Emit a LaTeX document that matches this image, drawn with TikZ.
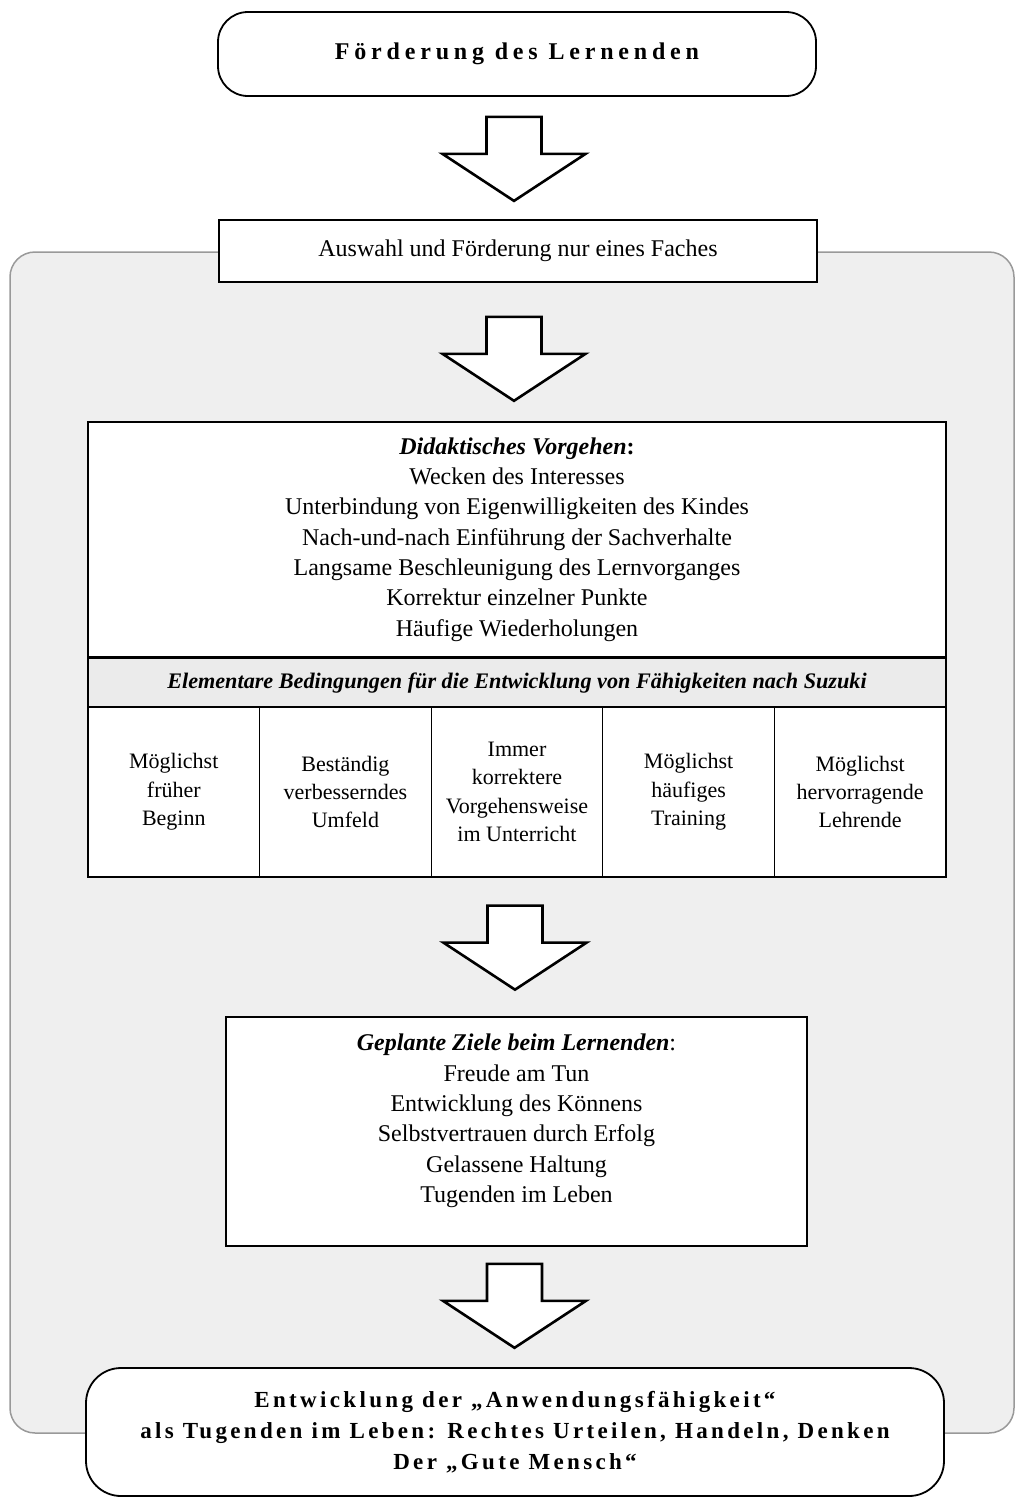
\documentclass[tikz,border=0pt]{standalone}
\usepackage{fontspec}
\setmainfont{Liberation Serif}
\newfontfamily\titlefont{Liberation Serif}[LetterSpace=20]
\newfontfamily\endfont{Liberation Serif}[LetterSpace=14.5]
\usepackage{xcolor}
\usetikzlibrary{positioning,calc}

\definecolor{panelgray}{HTML}{EFEFEF}
\definecolor{framegray}{HTML}{999999}
\definecolor{headgray}{HTML}{EBEBEB}

\begin{document}
\begin{tikzpicture}[
  x=1pt,y=-1pt,
  every node/.style={font=\fontsize{24}{30.3}\selectfont},
  box/.style={draw,line width=1.6pt,fill=white,align=center,inner sep=0pt},
  rbox/.style={box,line width=1.8pt,rounded corners=30pt},
  cell/.style={draw,line width=1.3pt,fill=white,align=center,inner sep=0pt,minimum width=171.6pt,minimum height=170pt,font=\fontsize{22}{28.3}\selectfont},
  pics/bigarrow/.style={code={
    \draw[line width=2.6pt,fill=white,line join=miter] (-27.5,0) -- (27.5,0) -- (27.5,37) -- (71.5,37) -- (0,84) -- (-71.5,37) -- (-27.5,37) -- cycle;}}
]
  \useasboundingbox (0,0) rectangle (1016,1497);
  \node[draw=framegray,fill=panelgray,line width=1.5pt,rounded corners=25pt,minimum width=1004pt,minimum height=1181pt,inner sep=0pt] (panel) at (512,842.5) {};

  \node[rbox,minimum width=598pt,minimum height=84pt,font=\titlefont\bfseries\fontsize{24}{28}\selectfont] (goal) at (517,54) {Förderung des Lernenden};
  \node[box,minimum width=598pt,minimum height=62pt] (fach) at (518,251) {Auswahl und Förderung nur eines Faches};

  \node[box,line width=1.4pt,minimum width=858pt,minimum height=235pt] (didaktik) at (517,539.5) {\textbf{\textit{Didaktisches Vorgehen}:}\\
    Wecken des Interesses\\
    Unterbindung von Eigenwilligkeiten des Kindes\\
    Nach-und-nach Einführung der Sachverhalte\\
    Langsame Beschleunigung des Lernvorganges\\
    Korrektur einzelner Punkte\\
    Häufige Wiederholungen};
  \node[box,line width=1.4pt,fill=headgray,minimum width=858pt,minimum height=50pt,font=\fontsize{22.2}{26}\selectfont\bfseries\itshape] (suzuki) at (517,683) {Elementare Bedingungen für die Entwicklung von Fähigkeiten nach Suzuki};
  \foreach \t [count=\i] in {{Möglichst\\früher\\Beginn},{Beständig\\verbesserndes\\Umfeld},{Immer\\korrektere\\Vorgehensweise\\im Unterricht},{Möglichst\\häufiges\\Training},{Möglichst\\hervorragende\\Lehrende}}
    \node[cell] (c\i) at ({2.2+171.6*\i},792) {\t};

  \node[box,minimum width=581pt,minimum height=229pt] (ziele) at (516.5,1131.5) {\textbf{\textit{Geplante Ziele beim Lernenden}}:\\
    Freude am Tun\\
    Entwicklung des Könnens\\
    Selbstvertrauen durch Erfolg\\
    Gelassene Haltung\\
    Tugenden im Leben\\[-4pt]\mbox{}};

  \node[rbox,rounded corners=35pt,minimum width=858pt,minimum height=128pt,font=\endfont\bfseries\fontsize{23}{31}\selectfont] (mensch) at (515,1432) {Entwicklung der „Anwendungsfähigkeit“\\
    als Tugenden im Leben: Rechtes Urteilen, Handeln, Denken\\
    Der „Gute Mensch“};

  \pic at ($(goal.south)+(-3,20)$) {bigarrow};
  \pic at ($(fach.south)+(-4,34)$) {bigarrow};
  \pic at ($(c3.south)+(-2,28)$) {bigarrow};
  \pic at ($(ziele.south)+(-2,17)$) {bigarrow};
\end{tikzpicture}
\end{document}
